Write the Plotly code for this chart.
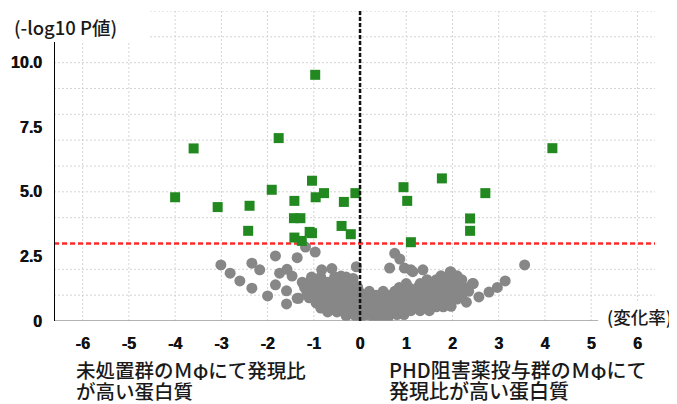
import plotly.graph_objects as go

# ---------------- data ----------------
green_x = [-4.0, -3.6, -3.08, -2.39, -2.42, -1.91, -1.76, -1.42, -1.43, -1.29,
           -1.42, -1.26, -1.09, -1.04, -1.04, -0.97, -0.96, -0.78, -0.35, -0.1,
           -0.4, -0.2, 0.94, 1.02, 1.1, 1.77, 2.71, 2.38, 2.38, 4.16]
green_y = [4.79, 6.68, 4.41, 4.46, 3.49, 5.08, 7.08, 4.65, 3.98, 3.98,
           3.23, 3.1, 3.45, 3.4, 5.43, 9.53, 4.79, 4.95, 4.61, 4.95,
           3.68, 3.36, 5.18, 4.65, 3.05, 5.52, 4.95, 3.97, 3.49, 6.69]

gray_out_x = [-3.01, -2.81, -2.6, -2.34, -2.34, -2.17, -2.0, -1.83, -1.74, -1.83,
              -1.58, -1.47, -1.59, -1.59, -1.36, -1.33, -1.18, -0.97, -0.83, -0.61,
              -0.41, -0.08, -0.15, -1.36,
              0.75, 0.86, 0.64, 0.96, 1.1, 1.36, 1.14, 3.56, 3.14, 2.97,
              2.79, 2.57, 2.3, 1.97, 2.43, 2.29, 2.07, 1.96]
gray_out_y = [2.17, 1.85, 1.55, 1.27, 2.24, 1.98, 0.97, 2.52, 1.85, 1.4,
              2.0, 1.74, 1.17, 0.66, 2.45, 0.88, 2.86, 2.67, 1.98, 2.03,
              1.74, 2.1, 1.65, 0.88,
              2.62, 2.4, 2.05, 2.05, 1.98, 1.98, 1.91, 2.17, 1.55, 1.3,
              1.12, 0.93, 0.73, 0.57, 1.45, 1.27, 1.59, 1.91]

# dense cloud near the origin, row by row (y level -> x positions)
cloud_levels = [1.7, 1.5, 1.3, 1.1, 0.9, 0.7, 0.5, 0.35, 0.2,
                0.1, 0.25, 0.4, 0.55, 0.7, 0.85, 1.0, 1.15, 1.3, 1.45, 1.6, 1.75, 1.9]
cloud_rows = [
    [-1.05, -0.85, -0.55, -0.3],
    [-1.25, -1.1, -0.9, -0.7, -0.5, -0.35, -0.15],
    [-1.2, -1.0, -0.8, -0.6, -0.45, -0.25, -0.05],
    [-1.15, -0.95, -0.75, -0.55, -0.4, -0.2, 0.0],
    [-1.1, -0.9, -0.7, -0.5, -0.3, -0.15, 0.05],
    [-0.95, -0.8, -0.6, -0.45, -0.25, -0.1],
    [-0.85, -0.65, -0.5, -0.3, -0.15, 0.0],
    [-0.7, -0.5, -0.35, -0.2, -0.05, 0.1],
    [-0.3, -0.1, 0.05],
    [0.3, 0.45, 0.6],
    [0.15, 0.4, 0.6, 0.8, 0.95],
    [0.1, 0.3, 0.5, 0.7, 0.9, 1.1, 1.3, 1.5],
    [0.2, 0.45, 0.65, 0.85, 1.05, 1.25, 1.45, 1.65, 1.8],
    [0.1, 0.35, 0.55, 0.75, 0.95, 1.15, 1.35, 1.55, 1.75, 1.95],
    [0.2, 0.45, 0.7, 0.9, 1.1, 1.3, 1.5, 1.7, 1.9, 2.1],
    [0.1, 0.35, 0.6, 0.8, 1.0, 1.2, 1.4, 1.6, 1.8, 2.0, 2.2],
    [0.2, 0.5, 0.75, 0.95, 1.15, 1.35, 1.55, 1.75, 1.95, 2.15, 2.35],
    [0.85, 1.05, 1.25, 1.45, 1.65, 1.85, 2.05, 2.25],
    [1.0, 1.3, 1.5, 1.7, 1.9, 2.1, 2.45],
    [1.45, 1.65, 1.85, 2.05, 2.2],
    [1.75, 1.95, 2.1],
    [1.95],
]

x_ticks = [-6, -5, -4, -3, -2, -1, 0, 1, 2, 3, 4, 5, 6]
y_ticks = [0, 2.5, 5, 7.5, 10]
y_ticktext = ["0", "2.5", "5.0", "7.5", "10.0"]
threshold = 3
x_range = [-6.62, 6.38]
y_range = [0, 12]

# ---------------- build ----------------
gray_x = list(gray_out_x)
gray_y = list(gray_out_y)
for lvl, row in zip(cloud_levels, cloud_rows):
    gray_x += row
    gray_y += [lvl] * len(row)

JP = "Noto Sans CJK JP"
NUM = "Liberation Sans, Arial, sans-serif"
TICK_FONT = dict(family=NUM, size=16, color="#111111", weight="bold",
                 shadow="0.5px 0 0 #111111")

fig = go.Figure()
fig.add_trace(go.Scatter(x=gray_x, y=gray_y, mode="markers",
                         marker=dict(symbol="circle", size=11, color="#878787",
                                     line=dict(width=0)),
                         hoverinfo="skip"))
fig.add_trace(go.Scatter(x=green_x, y=green_y, mode="markers",
                         marker=dict(symbol="square", size=10, color="#21891f",
                                     line=dict(width=0)),
                         hoverinfo="skip"))

shapes = []
grid = dict(color="#d4d4d4", width=1, dash="2px,2px")
for xv in x_ticks:
    shapes.append(dict(type="line", xref="x", yref="y", x0=xv, x1=xv,
                       y0=y_range[0], y1=y_range[1], line=grid, layer="below"))
for yv in range(1, 13):
    shapes.append(dict(type="line", xref="x", yref="y", x0=x_range[0], x1=x_range[1],
                       y0=yv, y1=yv, line=grid, layer="below"))
# white patch behind the y title
shapes.append(dict(type="rect", xref="x", yref="y", x0=x_range[0] - 2, x1=-4.58,
                   y0=10.78, y1=12.5, fillcolor="white", line=dict(width=0),
                   layer="below"))
# threshold line
shapes.append(dict(type="line", xref="x", yref="y", x0=x_range[0], x1=x_range[1],
                   y0=threshold, y1=threshold,
                   line=dict(color="#ff2b2b", width=2.5, dash="5px,3px"), layer="below"))
# axis lines
shapes.append(dict(type="line", xref="x", yref="y", x0=x_range[0], x1=5.15,
                   y0=0, y1=0, line=dict(color="#9a9a9a", width=1.5), layer="above"))
shapes.append(dict(type="line", xref="x", yref="y", x0=x_range[0], x1=x_range[0],
                   y0=0, y1=10.8, line=dict(color="black", width=2), layer="above"))
# vertical dashed line at 0
shapes.append(dict(type="line", xref="x", yref="y", x0=0, x1=0,
                   y0=y_range[0], y1=y_range[1],
                   line=dict(color="#111111", width=2.5, dash="4px,2px"), layer="above"))

annotations = [
    dict(text="(-log10 P値)", xref="paper", yref="paper", x=-0.070, y=0.948,
         xanchor="left", yanchor="middle", showarrow=False,
         font=dict(family=JP, size=18.5, color="#1a1a1a", weight=500)),
    dict(text="(変化率)", xref="paper", yref="paper", x=0.916, y=0.013,
         xanchor="left", yanchor="middle", showarrow=False, bgcolor="white",
         font=dict(family=JP, size=17.5, color="#1a1a1a", weight=500)),
    dict(text="未処置群のＭφにて発現比", xref="paper", yref="paper", x=0.034, y=-0.155,
         xanchor="left", yanchor="middle", showarrow=False, height=22,
         font=dict(family=JP, size=19.5, color="#1a1a1a", weight=500)),
    dict(text="が高い蛋白質", xref="paper", yref="paper", x=0.034, y=-0.2229,
         xanchor="left", yanchor="middle", showarrow=False, height=22,
         font=dict(family=JP, size=19.5, color="#1a1a1a", weight=500)),
    dict(text="PHD阻害薬投与群のＭφにて", xref="paper", yref="paper", x=0.5545, y=-0.155,
         xanchor="left", yanchor="middle", showarrow=False, height=22,
         font=dict(family=JP, size=20, color="#1a1a1a", weight=500)),
    dict(text="発現比が高い蛋白質", xref="paper", yref="paper", x=0.5545, y=-0.2229,
         xanchor="left", yanchor="middle", showarrow=False, height=22,
         font=dict(family=JP, size=20, color="#1a1a1a", weight=500)),
]

# the page body adds an 8px offset, so the figure is 8px smaller than the window
fig.update_layout(
    width=669, height=396,
    margin=dict(l=43, r=22, t=3, b=83, pad=0),
    paper_bgcolor="white", plot_bgcolor="white",
    showlegend=False,
    shapes=shapes, annotations=annotations,
    xaxis=dict(range=x_range, tickmode="array", tickvals=x_ticks,
               ticktext=[str(v) for v in x_ticks],
               showgrid=False, zeroline=False, showline=False, ticks="",
               ticklabelstandoff=11, tickfont=TICK_FONT),
    yaxis=dict(range=y_range, tickmode="array", tickvals=y_ticks,
               ticktext=y_ticktext,
               showgrid=False, zeroline=False, showline=False, ticks="",
               ticklabelstandoff=11, tickfont=TICK_FONT),
)

fig.write_html("out.html")
